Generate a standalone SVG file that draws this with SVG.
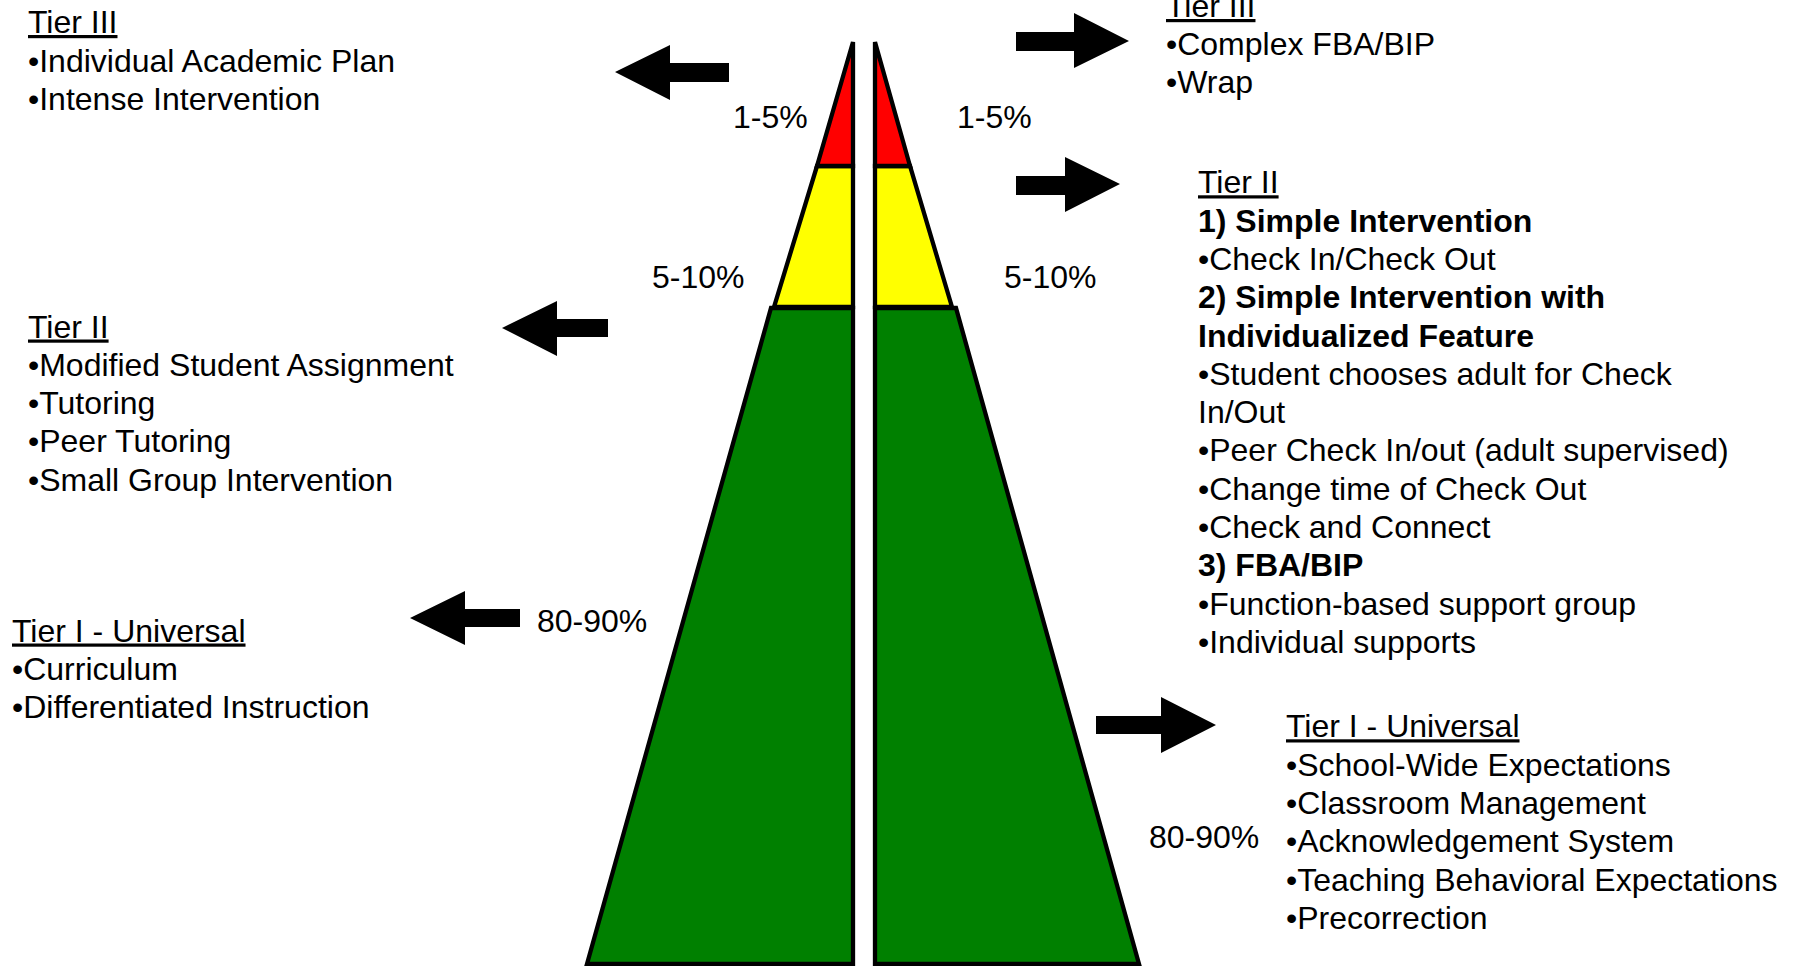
<svg xmlns="http://www.w3.org/2000/svg" width="1800" height="966" viewBox="0 0 1800 966">
<style>
  text { font-family: "Liberation Sans", Arial, sans-serif; font-size: 32px; fill: #000; }
  .u { text-decoration: underline; }
  .b { font-weight: bold; }
  .tier { stroke: #000; stroke-width: 4.3; stroke-linejoin: miter; }
  .red { fill: #FF0000; }
  .yel { fill: #FFFF00; }
  .grn { fill: #008000; }
  .arrow { fill: #000; }
</style>
<rect width="1800" height="966" fill="#fff"/>

<g id="pyramid-left">
  <polygon class="tier grn" points="771,308 853,308 853,964 587,964"/>
  <polygon class="tier yel" points="817,166 853,166 853,307 774,307"/>
  <polygon class="tier red" points="853,42 853,166 817,166"/>
</g>
<g id="pyramid-right">
  <polygon class="tier grn" points="875,308 956,308 1139,964 875,964"/>
  <polygon class="tier yel" points="875,166 910,166 952,307 875,307"/>
  <polygon class="tier red" points="875,42 910,166 875,166"/>
</g>

<g id="pct-left">
  <text x="733" y="128">1-5%</text>
  <text x="652" y="288">5-10%</text>
  <text x="537" y="632">80-90%</text>
</g>
<g id="pct-right">
  <text x="957" y="128">1-5%</text>
  <text x="1004" y="288">5-10%</text>
  <text x="1149" y="848">80-90%</text>
</g>

<g id="left-tier3">
  <text x="28" y="33" class="u">Tier III</text>
  <text x="28" y="71.5">•Individual Academic Plan</text>
  <text x="28" y="110">•Intense Intervention</text>
</g>
<g id="left-tier2">
  <text x="28" y="337.5" class="u">Tier II</text>
  <text x="28" y="375.8">•Modified Student Assignment</text>
  <text x="28" y="414">•Tutoring</text>
  <text x="28" y="452.3">•Peer Tutoring</text>
  <text x="28" y="490.5">•Small Group Intervention</text>
</g>
<g id="left-tier1">
  <text x="12" y="641.5" class="u">Tier I - Universal</text>
  <text x="12" y="679.8">•Curriculum</text>
  <text x="12" y="718">•Differentiated Instruction</text>
</g>

<g id="right-tier3">
  <text x="1166" y="17" class="u">Tier III</text>
  <text x="1166" y="55">•Complex FBA/BIP</text>
  <text x="1166" y="93">•Wrap</text>
</g>
<g id="right-tier2">
  <text x="1198" y="193.3" class="u">Tier II</text>
  <text x="1198" y="231.6" class="b">1) Simple Intervention</text>
  <text x="1198" y="269.9">•Check In/Check Out</text>
  <text x="1198" y="308.2" class="b">2) Simple Intervention with</text>
  <text x="1198" y="346.5" class="b">Individualized Feature</text>
  <text x="1198" y="384.8">•Student chooses adult for Check</text>
  <text x="1198" y="423.1">In/Out</text>
  <text x="1198" y="461.4">•Peer Check In/out (adult supervised)</text>
  <text x="1198" y="499.7">•Change time of Check Out</text>
  <text x="1198" y="538">•Check and Connect</text>
  <text x="1198" y="576.3" class="b">3) FBA/BIP</text>
  <text x="1198" y="614.6">•Function-based support group</text>
  <text x="1198" y="652.9">•Individual supports</text>
</g>
<g id="right-tier1">
  <text x="1286" y="737.3" class="u">Tier I - Universal</text>
  <text x="1286" y="775.6">•School-Wide Expectations</text>
  <text x="1286" y="813.9">•Classroom Management</text>
  <text x="1286" y="852.2">•Acknowledgement System</text>
  <text x="1286" y="890.5">•Teaching Behavioral Expectations</text>
  <text x="1286" y="928.8">•Precorrection</text>
</g>

<g id="connectors">
  <polygon class="arrow" points="615,72 670,45 670,63 729,63 729,82 670,82 670,100"/>
  <polygon class="arrow" points="502,328 557,301 557,319 608,319 608,337 557,337 557,356"/>
  <polygon class="arrow" points="410,618 465,591 465,609 520,609 520,627 465,627 465,645"/>
  <polygon class="arrow" points="1129,41 1074,13 1074,32 1016,32 1016,51 1074,51 1074,68"/>
  <polygon class="arrow" points="1120,184 1065,157 1065,176 1016,176 1016,195 1065,195 1065,212"/>
  <polygon class="arrow" points="1216,725 1161,697 1161,716 1096,716 1096,734 1161,734 1161,753"/>
</g>
</svg>
